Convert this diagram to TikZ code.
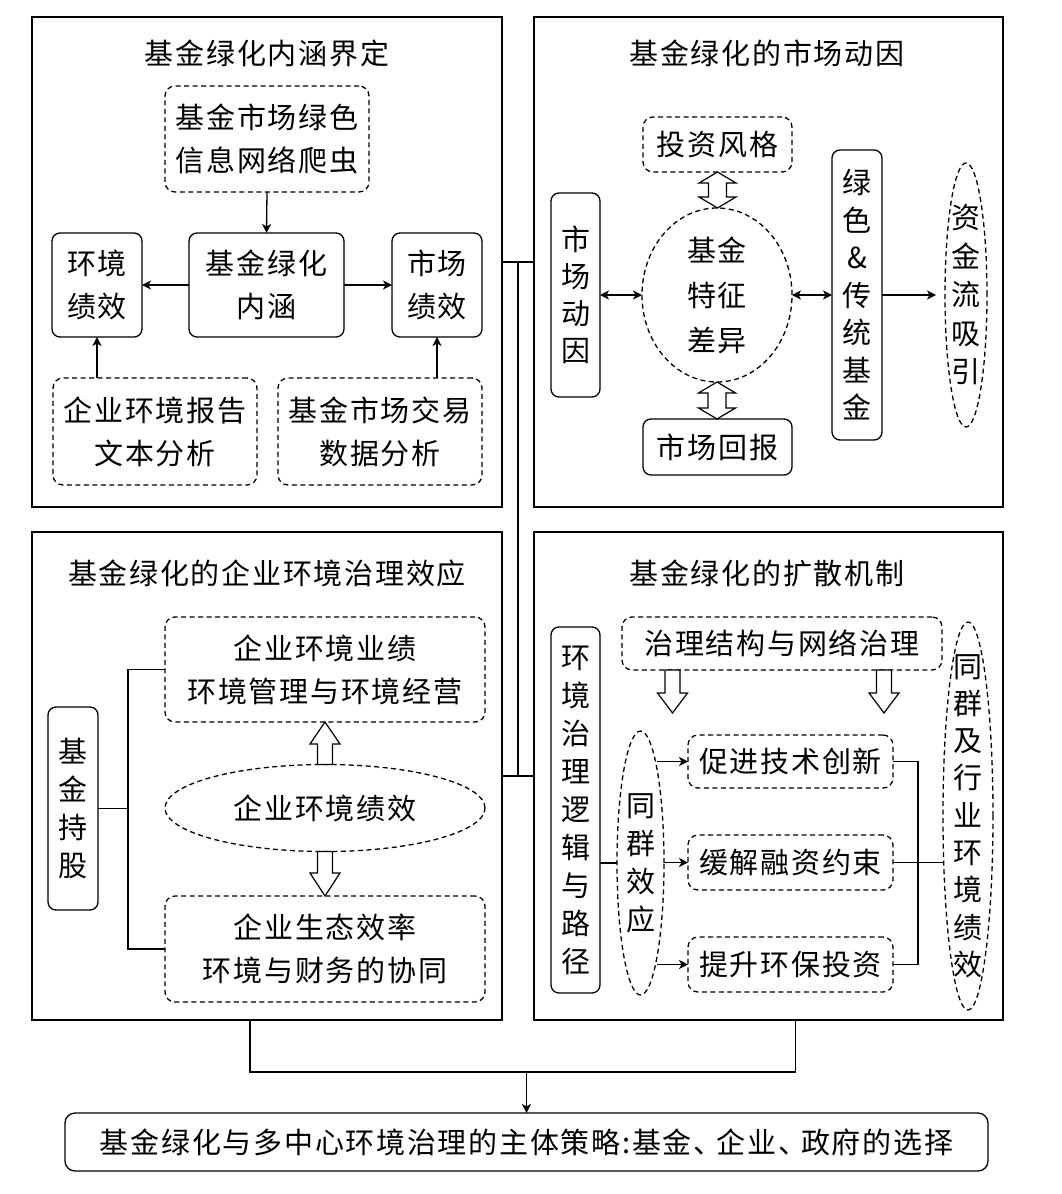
\documentclass[tikz,border=0pt]{standalone}
\usepackage{fontspec}
\usetikzlibrary{shapes.geometric,arrows.meta,calc}
\newfontfamily\cjk[LetterSpace=6]{Noto Sans CJK SC}
\newcommand\myfs[1]{\fontsize{29}{#1}\selectfont}
% hollow double arrow: #1 top point, #2 bottom point
\newcommand\hollowdbl[2]{%
  \draw[hol] let \p1=(#1), \p2=(#2) in
  (\x1,\y1) -- (\x1+18.5pt,\y1-11pt) -- (\x1+9pt,\y1-11pt) -- (\x1+9pt,\y2+11pt)
  -- (\x1+18.5pt,\y2+11pt) -- (\x1,\y2) -- (\x1-18.5pt,\y2+11pt) -- (\x1-9pt,\y2+11pt)
  -- (\x1-9pt,\y1-11pt) -- (\x1-18.5pt,\y1-11pt) -- cycle;}
% hollow single arrow: #1 start, #2 tip, #3 shaft half width, #4 head half width, #5 head length
\newcommand\hollowone[5]{%
  \draw[hol] let \p1=(#1), \p2=(#2), \n1={sign(\y1-\y2)} in
  (\x1-#3,\y1) -- (\x1-#3,{\y2+(\n1)*#5}) -- (\x1-#4,{\y2+(\n1)*#5}) -- (\x1,\y2)
  -- (\x1+#4,{\y2+(\n1)*#5}) -- (\x1+#3,{\y2+(\n1)*#5}) -- (\x1+#3,\y1) -- cycle;}
\begin{document}
\begin{tikzpicture}[x=1pt,y=-1pt,
  every node/.style={inner sep=0pt, outer sep=0pt},
  hd/.tip={Stealth[length=9pt,width=9pt,inset=2.5pt]},
  ln/.style={line width=1.3pt},
  txt/.style={font=\cjk\myfs{43}, align=center},
  panel/.style={draw, line width=1.2pt},
  sbox/.style={txt, draw, ln, rounded corners=8pt},
  dbox/.style={txt, draw, ln, dash pattern=on 5pt off 3.5pt, rounded corners=10pt},
  dell/.style={draw, ln, dash pattern=on 5pt off 3.5pt, ellipse},
  arr/.style={ln, -hd},
  darr/.style={ln, hd-hd},
  hol/.style={draw, line width=1.2pt, fill=white, line join=miter},
]
\useasboundingbox (0,0) rectangle (1062,1194);

% ---------- panels ----------
\node[panel, minimum width=470pt, minimum height=490pt] (P1) at (267,262) {};
\node[panel, minimum width=469pt, minimum height=490pt] (P2) at (768.5,262) {};
\node[panel, minimum width=470pt, minimum height=488pt] (P3) at (267,776) {};
\node[panel, minimum width=469pt, minimum height=488pt] (P4) at (768.5,776) {};

\draw[ln] (P1.east) -- (P2.west);
\draw[ln] (P3.east) -- (P4.west);
\draw[ln] ($(P1.east)!0.5!(P2.west)$) -- ($(P3.east)!0.5!(P4.west)$);

% ---------- panel 1 ----------
\node[txt] (t1) at (267,53) {基金绿化内涵界定};
\node[dbox, minimum width=204pt, minimum height=106pt] (crawl) at (267,139) {基金市场绿色\\信息网络爬虫};
\node[sbox, minimum width=155pt, minimum height=104pt] (core) at (266.5,285) {基金绿化\\内涵};
\node[sbox, minimum width=90pt, minimum height=104pt] (envp) at (97,285) {环境\\绩效};
\node[sbox, minimum width=90pt, minimum height=104pt] (mktp) at (437,285) {市场\\绩效};
\node[dbox, minimum width=204pt, minimum height=107pt] (rep) at (155,431.5) {企业环境报告\\文本分析};
\node[dbox, minimum width=204pt, minimum height=107pt] (trade) at (380,431.5) {基金市场交易\\数据分析};
\draw[arr] (crawl.south) -- (core.north);
\draw[arr] (core.west) -- (envp.east);
\draw[arr] (core.east) -- (mktp.west);
\draw[arr] (envp.south |- rep.north) -- (envp.south);
\draw[arr] (mktp.south |- trade.north) -- (mktp.south);

% ---------- panel 2 ----------
\node[txt] (t2) at (767,53) {基金绿化的市场动因};
\node[dbox, minimum width=149pt, minimum height=55pt] (style) at (717.5,144.5) {投资风格};
\node[dell, minimum width=150pt, minimum height=174pt] (feat) at (717,295) {};
\node[txt, font=\cjk\myfs{45}] (featt) at (feat.center) {基金\\特征\\差异};
\node[sbox, minimum width=149pt, minimum height=56pt] (ret) at (717.5,447) {市场回报};
\node[sbox, font=\cjk\myfs{37}, minimum width=49pt, minimum height=204pt] (mot) at (575.5,295) {市\\场\\动\\因};
\node[sbox, font=\cjk\myfs{37.5}, minimum width=50pt, minimum height=290pt] (gt) at (857,295) {绿\\色\\\&\\传\\统\\基\\金};
\node[dell, minimum width=42pt, minimum height=264pt] (flow) at (966,295) {};
\node[txt, font=\cjk\myfs{38.5}] (flowt) at (flow.center) {资\\金\\流\\吸\\引};
\draw[darr] (mot.east) -- (feat.west);
\draw[darr] (feat.east) -- (gt.west);
\draw[arr, shorten >=9pt] (gt.east) -- (flow.west);
\hollowdbl{style.south}{feat.north}
\hollowdbl{feat.south}{ret.north}

% ---------- panel 3 ----------
\node[txt] (t3) at (267,573) {基金绿化的企业环境治理效应};
\node[dbox, minimum width=320pt, minimum height=105pt] (perf) at (325,669.5) {企业环境业绩\\环境管理与环境经营};
\node[dell, minimum width=320pt, minimum height=87pt] (eperf) at (325,808) {};
\node[txt] (eperft) at (eperf.center) {企业环境绩效};
\node[dbox, minimum width=320pt, minimum height=106pt] (eco) at (325,949) {企业生态效率\\环境与财务的协同};
\node[sbox, font=\cjk\myfs{38}, minimum width=50pt, minimum height=203pt] (hold) at (73,808.5) {基\\金\\持\\股};
\coordinate (b3) at (128,808.5);
\draw[ln] (hold.east) -- (b3);
\draw[ln] (perf.west) -| (b3) |- (eco.west);
\hollowone{eperf.north}{perf.south}{7.5pt}{15pt}{22pt}
\hollowone{eperf.south}{eco.north}{7.5pt}{15pt}{23pt}

% ---------- panel 4 ----------
\node[txt] (t4) at (767,573) {基金绿化的扩散机制};
\node[sbox, font=\cjk\myfs{38}, minimum width=49pt, minimum height=366pt] (logic) at (575.5,810) {环\\境\\治\\理\\逻\\辑\\与\\路\\径};
\node[dbox, minimum width=320pt, minimum height=53pt] (gov) at (782,643.5) {治理结构与网络治理};
\node[dell, minimum width=47pt, minimum height=264pt] (peer) at (640.5,863) {};
\node[txt, font=\cjk\myfs{38}] (peert) at (peer.center) {同\\群\\效\\应};
\node[dbox, minimum width=205pt, minimum height=53pt] (tech) at (790.5,761.5) {促进技术创新};
\node[dbox, minimum width=205pt, minimum height=55pt] (fin) at (790.5,862.5) {缓解融资约束};
\node[dbox, minimum width=205pt, minimum height=55pt] (inv) at (790.5,964.5) {提升环保投资};
\node[dell, minimum width=50pt, minimum height=388pt] (ind) at (968,816) {};
\node[txt, font=\cjk\myfs{37.3}] (indt) at (ind.center) {同\\群\\及\\行\\业\\环\\境\\绩\\效};
\coordinate (g1) at (672.5,713);
\coordinate (g2) at (884,713);
\hollowone{g1 |- gov.south}{g1}{7.5pt}{15pt}{20pt}
\hollowone{g2 |- gov.south}{g2}{7.5pt}{15pt}{20pt}
\draw[ln] (logic.east |- peer.west) -- (peer.west);
\draw[arr] ([xshift=-31pt]tech.west) -- (tech.west);
\draw[arr] (peer.east |- fin.west) -- (fin.west);
\draw[arr] ([xshift=-31pt]inv.west) -- (inv.west);
\coordinate (rb) at (918,862.5);
\draw[ln] (tech.east) -| (rb) |- (inv.east);
\draw[ln] (fin.east) -- (fin.east -| ind.west);

% ---------- bottom ----------
\node[sbox, rounded corners=10pt, minimum width=923pt, minimum height=58pt] (F) at (526.5,1142) {基金绿化与多中心环境治理的主体策略{:}基金、\kern-6pt企业、\kern-6pt政府的选择};
\coordinate (J) at (526.5,1072);
\draw[ln] ([xshift=-17pt]P3.south) |- (J) -| ([xshift=27pt]P4.south);
\draw[arr] (J) -- (F.north);
\end{tikzpicture}
\end{document}
